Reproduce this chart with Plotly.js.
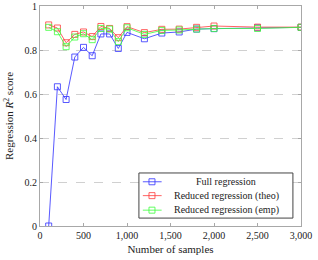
<!DOCTYPE html>
<html><head><meta charset="utf-8">
<script src="https://cdn.plot.ly/plotly-3.0.1.min.js"></script>
<style>html,body{margin:0;padding:0;background:#fff}#c{width:318px;height:260px}</style>
</head><body><div id="c"></div>
<script>
const samples = [100,200,300,400,500,600,700,800,900,1000,1200,1400,1600,1800,2000,2500,3000];
const fullReg = [0,0.633,0.575,0.768,0.812,0.774,0.873,0.873,0.807,0.880,0.851,0.877,0.882,0.895,0.897,0.901,0.903];
const redTheo = [0.914,0.900,0.833,0.871,0.882,0.861,0.907,0.898,0.856,0.906,0.879,0.894,0.895,0.903,0.909,0.904,0.904];
const redEmp  = [0.903,0.883,0.815,0.859,0.874,0.847,0.898,0.895,0.838,0.901,0.871,0.889,0.891,0.895,0.898,0.898,0.903];
const names = ['Full regression','Reduced regression (theo)','Reduced regression (emp)'];
const colors = ['rgba(60,60,255,0.85)','rgba(255,60,60,0.8)','rgba(60,255,60,0.8)'];
const series = [fullReg, redTheo, redEmp];
const font = 'Liberation Serif, serif';
const traces = series.map((s,i)=>({
  x: samples, y: s, name: names[i], type:'scatter', mode:'lines+markers',
  line:{color:colors[i], width:1}, showlegend:false,
  marker:{symbol:'square-open', size:6, color:colors[i], line:{width:1}}
}));
// custom legend (paper coordinates)
const lg = {x0:0.379, x1:0.969, y0:0.036, y1:0.241, rows:[0.201,0.138,0.072], lx0:0.394, lx1:0.466, mx:0.429, tx:0.713};
const shapes = [{type:'rect', xref:'paper', yref:'paper', x0:lg.x0, x1:lg.x1, y0:lg.y0, y1:lg.y1,
  line:{color:'#444', width:1}, fillcolor:'#fff', layer:'above'}];
const annotations = [];
names.forEach((n,i)=>{
  const y = lg.rows[i];
  shapes.push({type:'line', xref:'paper', yref:'paper', x0:lg.lx0, x1:lg.lx1, y0:y, y1:y,
    line:{color:colors[i], width:1}, layer:'above'});
  shapes.push({type:'rect', xref:'paper', yref:'paper', xsizemode:'pixel', ysizemode:'pixel',
    xanchor:lg.mx, yanchor:y, x0:-3, x1:3, y0:-3, y1:3, line:{color:colors[i], width:1},
    fillcolor:'rgba(0,0,0,0)', layer:'above'});
  annotations.push({xref:'paper', yref:'paper', x:lg.tx, y:y, text:n, showarrow:false,
    xanchor:'center', yanchor:'middle', font:{family:font, size:10, color:'#222'}});
});
const axisCommon = {showline:true, linecolor:'#a8a8a8', linewidth:1, mirror:'ticks',
  ticks:'inside', ticklen:3, tickcolor:'#a8a8a8', zeroline:false,
  tickfont:{family:font, size:10, color:'#222'}};
Plotly.newPlot('c', traces, {
  width:318, height:260,
  margin:{l:40, r:17, t:6, b:34},
  paper_bgcolor:'#fff', plot_bgcolor:'#fff',
  font:{family:font, size:10, color:'#222'},
  xaxis: Object.assign({}, axisCommon, {range:[0,3000], tickvals:[0,500,1000,1500,2000,2500,3000],
    tickformat:',', showgrid:false,
    title:{text:'Number of samples', font:{family:font, size:11}, standoff:5}}),
  yaxis: Object.assign({}, axisCommon, {range:[0,1], tickvals:[0,0.2,0.4,0.6,0.8,1],
    showgrid:true, gridcolor:'#d0d0d0', griddash:'dash', gridwidth:1,
    title:{text:'Regression <i>R</i><sup>2</sup> score', font:{family:font, size:11}, standoff:8}}),
  shapes: shapes, annotations: annotations,
  showlegend:false
}, {displayModeBar:false, staticPlot:true});
</script></body></html>
